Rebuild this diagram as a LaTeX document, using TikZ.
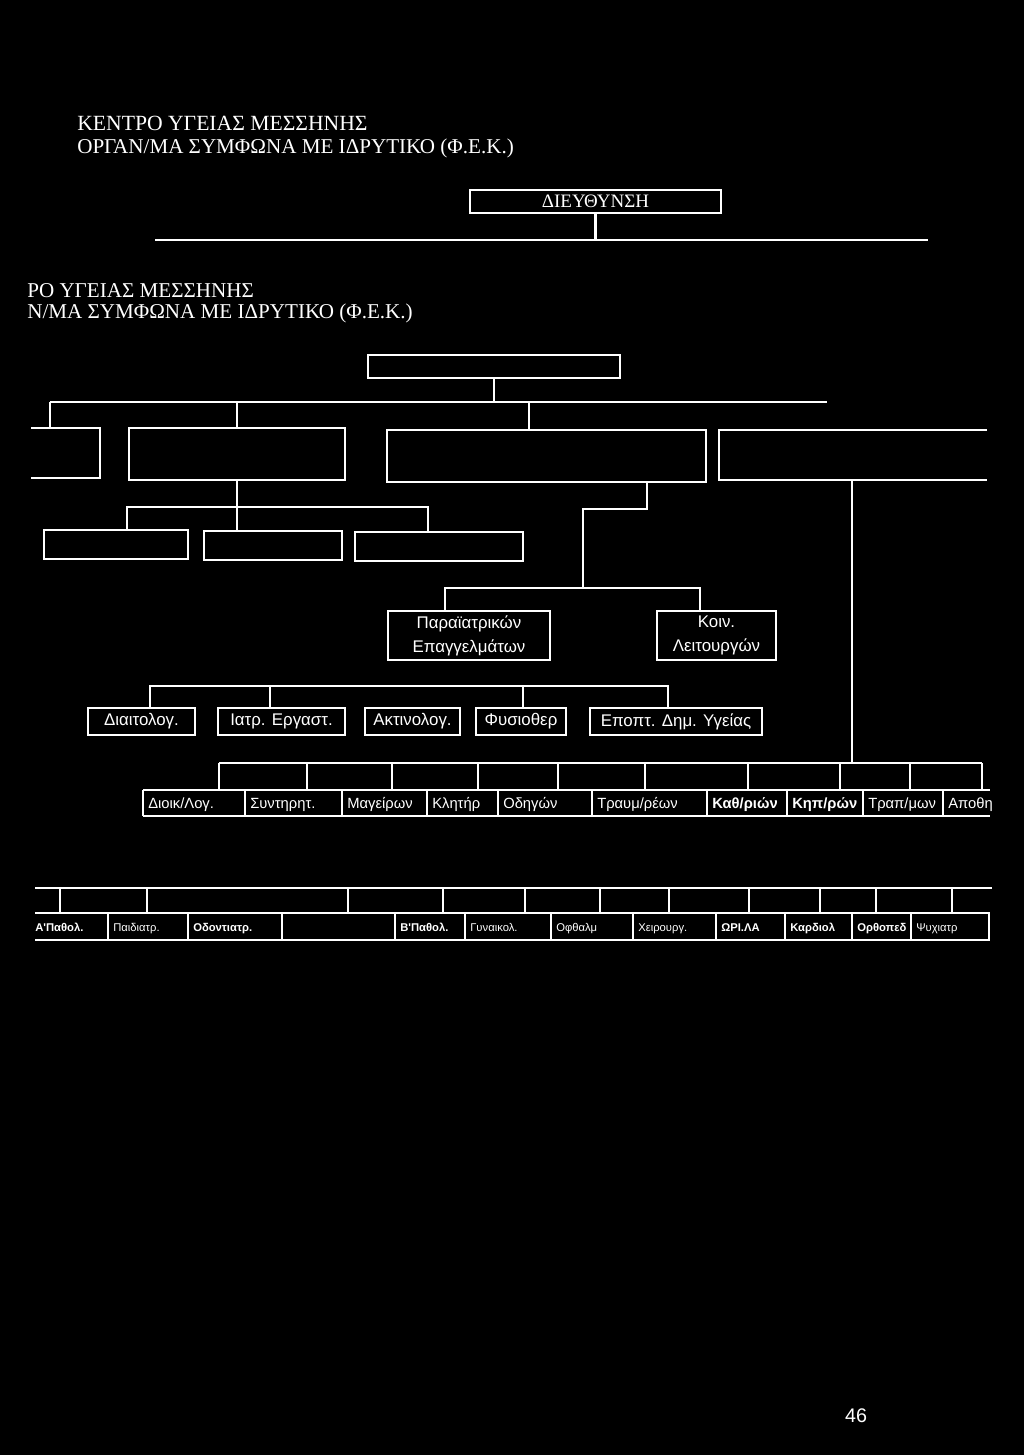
\documentclass[tikz,border=0pt]{standalone}
\usepackage{fontspec}
\setmainfont{Liberation Serif}
\newfontfamily\labfont{Liberation Sans}
\usetikzlibrary{fit}

\begin{document}
\begin{tikzpicture}[x=0.025cm, y=-0.025cm,
    wire/.style={white, line width=1.5pt},
    unit/.style={draw=white, line width=1.5pt, inner sep=0pt},
    tag/.style={text=white, inner sep=0pt, align=center, font=\labfont\fontsize{12}{17}\selectfont},
    lbl/.style={text=white, inner sep=0pt, anchor=base west}]
  \useasboundingbox (0,0) rectangle (1024,1455);
  \fill[black] (0,0) rectangle (1024,1455);

  % titles
  \node[lbl, font=\fontsize{15.4}{18}\selectfont] (title1) at (77,130) {ΚΕΝΤΡΟ ΥΓΕΙΑΣ ΜΕΣΣΗΝΗΣ};
  \node[lbl, font=\fontsize{15}{18}\selectfont] (title2) at (77,153) {ΟΡΓΑΝ/ΜΑ ΣΥΜΦΩΝΑ ΜΕ ΙΔΡΥΤΙΚΟ (Φ.Ε.Κ.)};
  \node[lbl, font=\fontsize{15}{18}\selectfont] (title3) at (27,297) {ΡΟ ΥΓΕΙΑΣ ΜΕΣΣΗΝΗΣ};
  \node[lbl, font=\fontsize{15}{18}\selectfont] (title4) at (27,318) {Ν/ΜΑ ΣΥΜΦΩΝΑ ΜΕ ΙΔΡΥΤΙΚΟ (Φ.Ε.Κ.)};

  % direction
  \node[unit, fit={(470,190) (721,213)},
        label={[tag, font=\fontsize{13.5}{15}\selectfont]center:ΔΙΕΥΘΥΝΣΗ}] (dir) {};
  \coordinate (busw) at (155,240);
  \coordinate (buse) at (928,240);
  \draw[wire] (busw) -- (buse);
  \draw[wire] (dir.south) -- (dir.south |- busw);

  % second chart, first level
  \node[unit, fit={(368,355) (620,378)}] (head) {};
  \coordinate (hubw) at (50,402);
  \coordinate (hube) at (827,402);
  \draw[wire] (hubw) -- (hube);
  \draw[wire] (head.south) -- (head.south |- hube);

  \coordinate (aTop) at (50,428);
  \draw[wire] (31,428) -- (100,428) -- (100,478) -- (31,478);
  \draw[wire] (hubw) -- (aTop);
  \node[unit, fit={(129,428) (345,480)}] (secB) {};
  \node[unit, fit={(387,430) (706,482)}] (secC) {};
  \draw[wire] (987,430) -- (719,430) -- (719,480) -- (987,480);
  \coordinate (dBot) at (852,480);
  \draw[wire] (secB.north) -- (secB.north |- hubw);
  \coordinate (cTop) at ([xshift=-0.43cm]secC.north);
  \draw[wire] (cTop) -- (cTop |- hubw);

  % second level
  \node[unit, fit={(44,530) (188,559)}] (subE) {};
  \node[unit, fit={(204,531) (342,560)}] (subF) {};
  \node[unit, fit={(355,532) (523,561)}] (subG) {};
  \draw[wire] (secB.south) -- (secB.south |- subF.north);
  \coordinate (eTop) at ([xshift=0.28cm]subE.north);
  \coordinate (gTop) at ([xshift=-0.28cm]subG.north);
  \draw[wire] (eTop) -- ++(0,-22) -| (gTop);

  % paramedical / community
  \coordinate (cBot) at ([xshift=2.52cm]secC.south);
  \coordinate (j3) at (583,588);
  \draw[wire] (cBot) -- ++(0,26) -| (j3);
  \node[unit, fit={(388,611) (550,660)}, label={[tag]center:Παραϊατρικών\\Επαγγελμάτων}] (para) {};
  \node[unit, fit={(657,611) (776,660)}, label={[tag]center:Κοιν.\\Λειτουργών}] (koin) {};
  \draw[wire] ([xshift=-0.6cm]para.north) |- (j3) -| ([xshift=-0.41cm]koin.north);

  % services
  \node[unit, fit={(88,708) (195,735)}, label={[tag]center:Διαιτολογ.}] (diet) {};
  \node[unit, fit={(218,708) (345,735)}, label={[tag]center:Ιατρ. Εργαστ.}] (lab) {};
  \node[unit, fit={(365,708) (460,735)}, label={[tag]center:Ακτινολογ.}] (xray) {};
  \node[unit, fit={(476,708) (566,735)}, label={[tag]center:Φυσιοθερ}] (physio) {};
  \node[unit, fit={(590,708) (762,735)}, label={[tag]center:Εποπτ. Δημ. Υγείας}] (health) {};
  \draw[wire] ([xshift=0.21cm]diet.north) -- ++(0,-21) -| ([xshift=-0.2cm]health.north);
  \foreach \n/\s in {lab/-0.29cm, physio/0.05cm}
    \draw[wire] ([xshift=\s]\n.north) -- ++(0,-21);

  % staff row
  \coordinate (r5) at (219,763);
  \draw[wire] (r5) -- (982,763);
  \draw[wire] (dBot) -- (dBot |- r5);
  \foreach \x in {219,307,392,478,558,645,748,840,910,982}
    \draw[wire] (\x,763) -- (\x,790);
  \draw[wire] (143,790) -- (990,790) (143,816) -- (990,816);
  \foreach \x/\t in {143/{Διοικ/Λογ.}, 245/{Συντηρητ.}, 342/{Μαγείρων}, 427/{Κλητήρ},
                     498/{Οδηγών}, 592/{Τραυμ/ρέων}, 707/{\bfseries Καθ/ριών},
                     787/{\bfseries Κηπ/ρών}, 863/{Τραπ/μων}, 943/{Αποθη}} {
    \draw[wire] (\x,790) -- (\x,816);
    \node[lbl, font=\labfont\fontsize{10.5}{12}\selectfont] (r5-\x) at ({\x+5},808) {\t};
  }

  % clinics row
  \draw[wire] (35,888) -- (992,888);
  \foreach \x in {60,147,348,443,525,600,669,749,820,876,952}
    \draw[wire] (\x,888) -- (\x,913);
  \draw[wire] (35,913) -- (990,913) (35,940) -- (990,940);
  \foreach \x in {108,188,282,395,465,551,633,716,785,852,911,989}
    \draw[wire] (\x,913) -- (\x,940);
  \foreach \x/\t in {35/{\bfseries Α'Παθολ.}, 113/{Παιδιατρ.}, 193/{\bfseries Οδοντιατρ.},
                     400/{\bfseries Β'Παθολ.}, 470/{Γυναικολ.}, 556/{Οφθαλμ},
                     638/{Χειρουργ.}, 721/{\bfseries ΩΡΙ.ΛΑ}, 790/{\bfseries Καρδιολ},
                     857/{\bfseries Ορθοπεδ}, 916/{Ψυχιατρ}}
    \node[lbl, font=\labfont\fontsize{8}{10}\selectfont] (r6-\x) at (\x,931) {\t};

  \node[lbl, anchor=base, font=\labfont\fontsize{14}{16}\selectfont] (page) at (856,1422) {46};
\end{tikzpicture}
\end{document}
